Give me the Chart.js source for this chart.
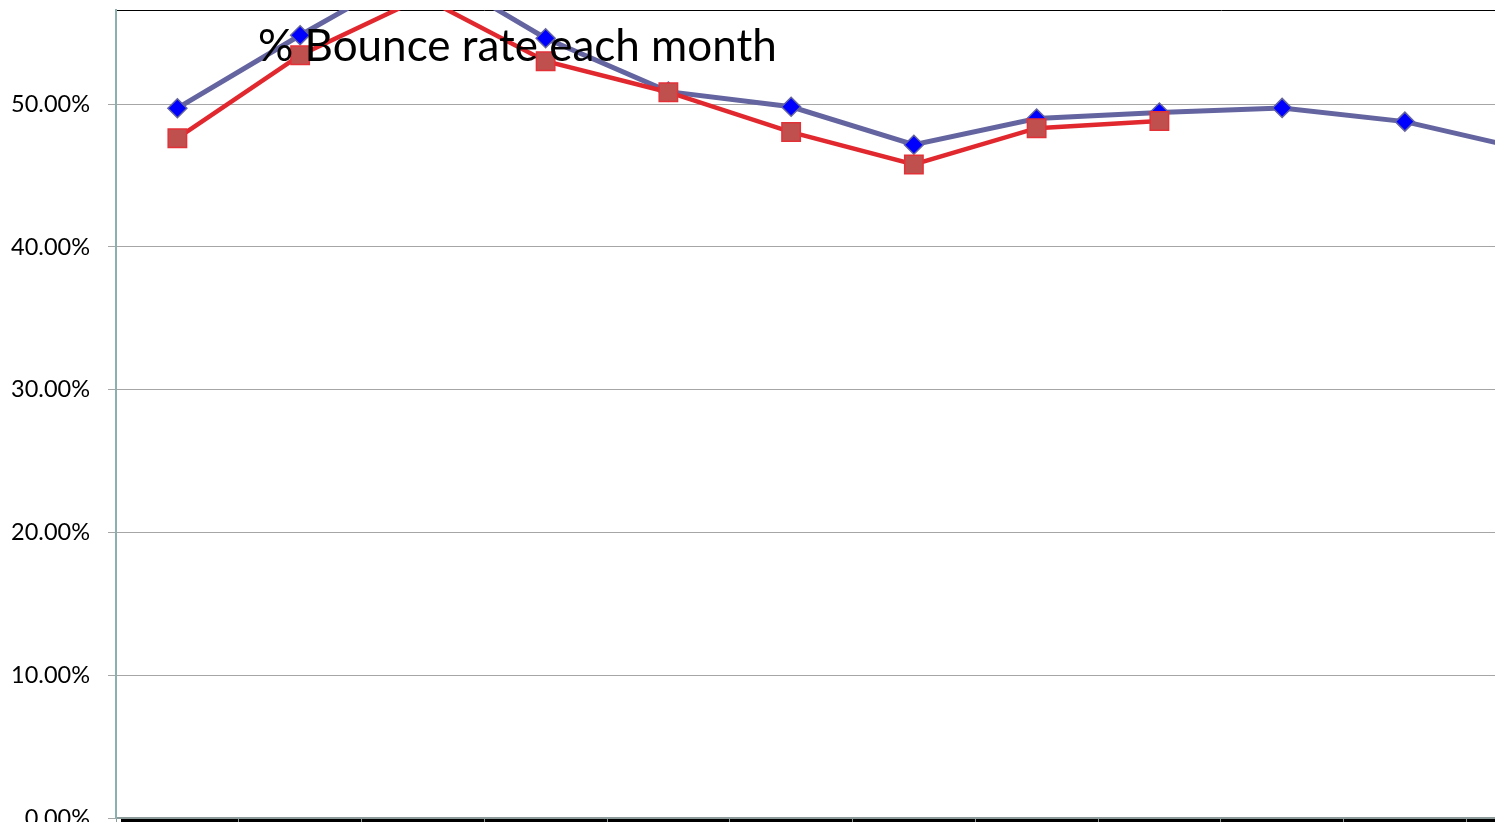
<!DOCTYPE html>
<html>
<head>
<meta charset="utf-8">
<title>% Bounce rate each month</title>
<script src="https://cdn.jsdelivr.net/npm/chart.js@4.4.1/dist/chart.umd.min.js"></script>
<style>
  html, body { margin: 0; padding: 0; background: #fff; overflow: hidden; }
  #wrap { position: absolute; left: 0; top: 0; width: 1600px; height: 870px; }
</style>
</head>
<body>
<div id="wrap"><canvas id="bounceChart" width="1600" height="870"></canvas></div>
<script>
const months = ['Jan', 'Feb', 'Mar', 'Apr', 'May', 'Jun', 'Jul', 'Aug', 'Sep', 'Oct', 'Nov', 'Dec'];

// % bounce rate
const bounceFull = [49.72, 54.83, 59.7, 54.62, 50.88, 49.82, 47.16, 49.0, 49.42, 49.74, 48.78, 46.8];
const bouncePart = [47.62, 53.43, 57.5, 53.01, 50.84, 48.05, 45.78, 48.32, 48.82, null, null, null];

const yTicks = [0, 10, 20, 30, 40, 50];
const yMax = 56.6;
const chartTitle = '% Bounce rate each month';

Chart.defaults.font.family = 'Lato, Carlito, sans-serif';
Chart.defaults.font.size = 23.5;
Chart.defaults.color = '#000';

// black strip under the axis + the title sitting over the plot
const sheetDecor = {
  id: 'sheetDecor',
  beforeDraw(chart) {
    const { ctx, chartArea } = chart;
    ctx.save();
    ctx.fillStyle = '#000';
    ctx.fillRect(chartArea.left + 5, chartArea.bottom + 1, chartArea.right - chartArea.left, 10);
    ctx.restore();
  },
  afterDraw(chart) {
    const { ctx, chartArea } = chart;
    ctx.save();
    ctx.font = '44px Lato, Carlito, sans-serif';
    ctx.fillStyle = '#000';
    ctx.textBaseline = 'alphabetic';
    ctx.fillText(chartTitle, chartArea.left + 142, 61);
    ctx.restore();
  }
};

const ctx = document.getElementById('bounceChart').getContext('2d');

const data = {
  labels: months,
  datasets: [{
    label: 'Series 2',
    data: bouncePart,
    borderColor: '#e0282e',
    borderWidth: 4.5,
    pointStyle: 'rect',
    pointRadius: 13,
    pointBackgroundColor: '#c0504d',
    pointBorderColor: '#e23238',
    pointBorderWidth: 1.5,
    tension: 0,
    clip: 0
  },
  {
    label: 'Series 1',
    data: bounceFull,
    borderColor: '#6464a0',
    borderWidth: 5,
    pointStyle: 'rectRot',
    pointRadius: 9.5,
    pointBackgroundColor: '#0000ff',
    pointBorderColor: '#6464a0',
    pointBorderWidth: 1.5,
    tension: 0,
    clip: 0
  }]
};

const options = {
  responsive: false,
  animation: false,
  events: [],
  layout: { autoPadding: false, padding: { top: 10, right: 11, bottom: 0, left: 0 } },
  plugins: {
    legend: { display: false },
    tooltip: { enabled: false }
  },
  scales: {
    x: {
      type: 'category',
      position: 'bottom',
      offset: true,
      grid: {
        drawOnChartArea: false,
        offset: true,
        tickLength: 10,
        color: '#8c9a9a'
      },
      border: { color: '#8c9a9a', width: 2 },
      ticks: { display: false },
      afterFit: (scale) => { scale.height = 52 }
    },
    xTop: {
      type: 'category',
      position: 'top',
      grid: { display: false, drawTicks: false },
      border: { color: '#000', width: 1 },
      ticks: { display: false },
      afterFit: (scale) => { scale.height = 0 }
    },
    y: {
      min: 0,
      max: yMax,
      grid: {
        color: '#a6a6a6',
        tickLength: 8,
        lineWidth: 1
      },
      border: { color: '#8cb0b0', width: 2 },
      ticks: {
        padding: 18,
        callback: (v) => v.toFixed(2) + '%'
      },
      afterBuildTicks: (scale) => { scale.ticks = yTicks.map(v => ({ value: v })) },
      afterFit: (scale) => {
        scale.width = 116;
        scale.paddingTop = 0;
        scale.paddingBottom = 0;
      }
    }
  }
};

const bounceChart = new Chart(ctx, { type: 'line', data: data, options: options, plugins: [sheetDecor] });
</script>
</body>
</html>
